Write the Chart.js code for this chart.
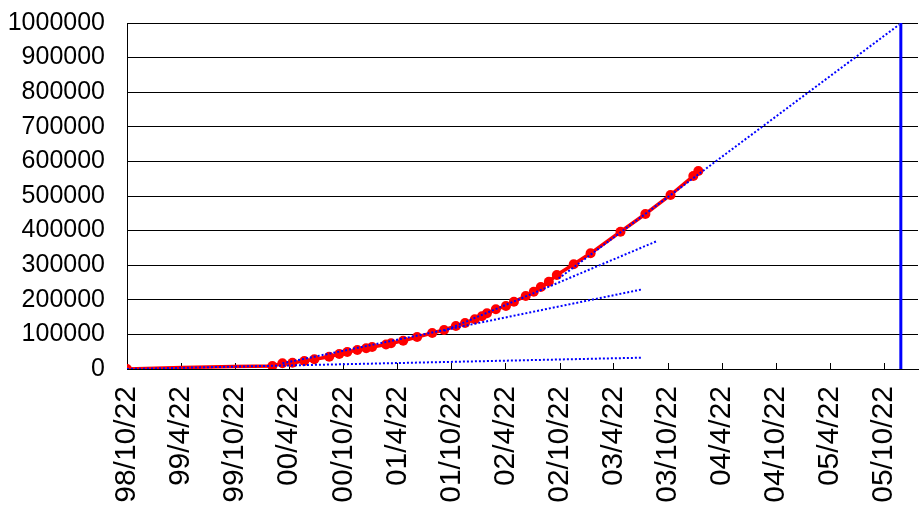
<!DOCTYPE html>
<html>
<head>
<meta charset="utf-8">
<script src="https://cdn.jsdelivr.net/npm/chart.js@4.4.1/dist/chart.umd.min.js"></script>
<style>
  html, body { margin: 0; padding: 0; background: #fff; }
</style>
</head>
<body>
<canvas id="grafico" width="923" height="520"></canvas>
<script>
// === EIXO X: rótulos a cada 6 meses ===
const tickLabels = ['98/10/22', '99/4/22', '99/10/22', '00/4/22', '00/10/22', '01/4/22', '01/10/22',
  '02/4/22', '02/10/22', '03/4/22', '03/10/22', '04/4/22', '04/10/22', '05/4/22', '05/10/22'];
const startDate = '1998-10-22';
const endDate = '2006-02-14';

// === SÉRIE PRINCIPAL ===
const dates = ['1998-10-22', '1999-04-28', '1999-10-20', '2000-02-25', '2000-03-30', '2000-05-03',
  '2000-06-12', '2000-07-16', '2000-09-04', '2000-10-08', '2000-11-04', '2000-12-08', '2001-01-07',
  '2001-01-27', '2001-03-15', '2001-04-01', '2001-05-12', '2001-06-28', '2001-08-18', '2001-09-27',
  '2001-11-06', '2001-12-07', '2002-01-09', '2002-02-02', '2002-02-19', '2002-03-21', '2002-04-24',
  '2002-05-21', '2002-06-30', '2002-07-27', '2002-08-20', '2002-09-16', '2002-10-13', '2002-12-09',
  '2003-02-04', '2003-05-16', '2003-08-08', '2003-11-01', '2004-01-17', '2004-02-03'];
const counts = [0, 4300, 7200, 8700, 16500, 18200,
  23100, 28000, 35500, 43400, 49100, 54900, 59800,
  63600, 70800, 74300, 81800, 92500, 104000, 112700,
  124300, 133000, 143600, 152300, 161000, 172500, 182100,
  194500, 211000, 223400, 237000, 252300, 271700, 302600,
  334400, 396800, 448000, 502900, 557800, 572200];
// pontos sem marcador visível (trecho inicial)
const semMarcador = [1, 2];

// === LINHAS DE TENDÊNCIA (início e fim) ===
const trend1Dates = ['1998-10-22', '2003-07-26'];
const trend1Values = [0, 32700];
const trend2Dates = ['2000-03-30', '2003-07-29'];
const trend2Values = [16500, 230300];
const trend3Dates = ['2001-09-27', '2003-09-17'];
const trend3Values = [110100, 370000];
const trend4Dates = ['2002-10-19', '2005-12-12'];
const trend4Values = [261500, 995000];

// linha vertical (data limite)
const limitDates = ['2005-12-18', '2005-12-18'];
const limitValues = [0, 1000000];

const yMax = 1000000;
const yStep = 100000;

// converte data para dias desde o início
function dia(s) {
  return (Date.parse(s) - Date.parse(startDate)) / 86400000;
}
function rotuloParaData(r) {
  const p = r.split('/');
  const ano = (+p[0] < 50 ? 2000 : 1900) + (+p[0]);
  return ano + '-' + p[1].padStart(2, '0') + '-' + p[2].padStart(2, '0');
}
function pontos(ds, vs) {
  return ds.map((d, i) => ({ x: dia(d), y: vs[i] }));
}
const tickDays = tickLabels.map(r => dia(rotuloParaData(r)));

// tracinhos do eixo x voltados para dentro
const ticksInternos = {
  id: 'ticksInternos',
  beforeDatasetsDraw(chart) {
    const { ctx, chartArea, scales } = chart;
    ctx.save();
    ctx.strokeStyle = '#000';
    ctx.lineWidth = 1;
    ctx.beginPath();
    tickDays.forEach(v => {
      const x = Math.round(scales.x.getPixelForValue(v)) + 0.5;
      ctx.moveTo(x, chartArea.bottom);
      ctx.lineTo(x, chartArea.bottom - 6);
    });
    ctx.stroke();
    ctx.restore();
  }
};

const tendencia = (ds, vs) => ({
  data: pontos(ds, vs),
  borderColor: '#0000ff',
  borderWidth: 2,
  borderDash: [2, 2],
  pointRadius: 0,
  order: 1
});

new Chart(document.getElementById('grafico'), {
  type: 'line',
  data: {
    datasets: [
      {
        data: pontos(dates, counts),
        borderColor: '#ff0000',
        borderWidth: 3.5,
        pointRadius: c => semMarcador.includes(c.dataIndex) ? 0 : 5,
        pointBackgroundColor: '#ff0000',
        pointBorderColor: '#ff0000',
        pointBorderWidth: 0,
        order: 2
      },
      tendencia(trend1Dates, trend1Values),
      tendencia(trend2Dates, trend2Values),
      tendencia(trend3Dates, trend3Values),
      tendencia(trend4Dates, trend4Values),
      {
        data: pontos(limitDates, limitValues),
        borderColor: '#0000ff',
        borderWidth: 3,
        pointRadius: 0,
        order: 0
      }
    ]
  },
  options: {
    responsive: false,
    animation: false,
    devicePixelRatio: 1,
    elements: { line: { tension: 0 } },
    layout: { padding: { top: 23, right: 3, left: 0, bottom: 0 } },
    plugins: {
      legend: { display: false },
      tooltip: { enabled: false }
    },
    scales: {
      x: {
        type: 'linear',
        min: 0,
        max: dia(endDate),
        afterBuildTicks: s => { s.ticks = tickDays.map(v => ({ value: v })); },
        afterFit: s => { s.height = 151; s.paddingLeft = 0; s.paddingRight = 0; },
        grid: { display: false, drawTicks: false },
        border: { color: '#000', width: 1 },
        ticks: {
          autoSkip: false,
          minRotation: 90,
          maxRotation: 90,
          padding: 17,
          color: '#000',
          font: { family: 'Liberation Sans', size: 30 },
          callback: (v, i) => tickLabels[i]
        }
      },
      y: {
        min: 0,
        max: yMax,
        afterFit: s => { s.width = 127; s.paddingTop = 0; s.paddingBottom = 0; },
        grid: { color: '#000', lineWidth: 1, drawTicks: false },
        border: { color: '#000', width: 1 },
        ticks: {
          stepSize: yStep,
          padding: 22,
          color: '#000',
          font: { family: 'Liberation Sans', size: 25 },
          callback: v => String(v)
        }
      }
    }
  },
  plugins: [ticksInternos]
});
</script>
</body>
</html>
